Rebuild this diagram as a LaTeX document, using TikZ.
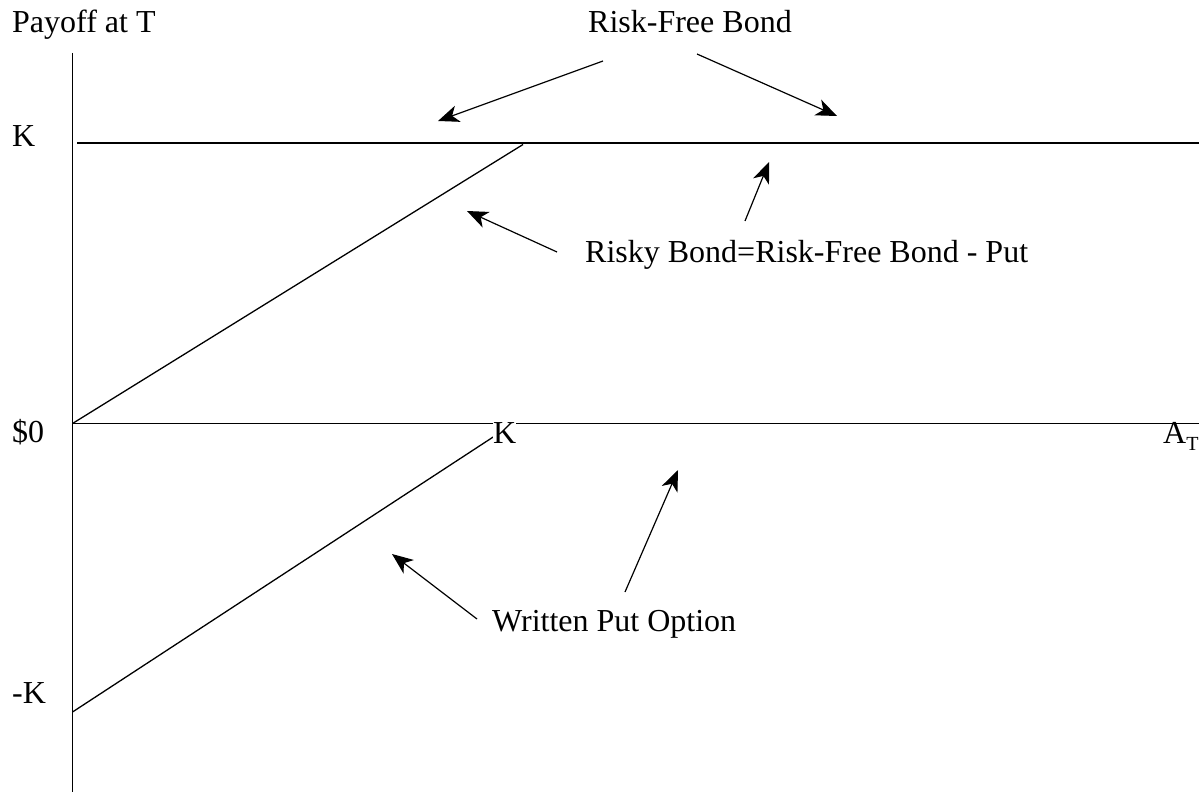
\documentclass[tikz,border=0pt]{standalone}
\usepackage{fontspec}
\setmainfont{Liberation Serif}
\usetikzlibrary{arrows.meta}
\begin{document}
\begin{tikzpicture}[x=1pt,y=-1pt,
  lbl/.style={inner sep=0pt,anchor=base west,font=\fontsize{32}{36}\selectfont},
  ln/.style={line width=1.3pt},
  arr/.style={line width=1.2pt,-{Stealth[length=21pt,width=17pt,inset=6pt]}}]
\useasboundingbox (0,0) rectangle (1199,792);
% axes and payoff lines
\coordinate (ytop) at (72.5,53);
\coordinate (ybot) at (72.5,792);
\coordinate (o) at (72.5,423.5);
\coordinate (xend) at (1199,423.5);
\coordinate (kl) at (77,143);
\coordinate (kr) at (1199,143);
\coordinate (kink) at (523,144.5);
\coordinate (mk) at (72.5,712);
\coordinate (kb) at (510,426);
\draw[ln] (ytop) -- (ybot);
\draw[ln] (o) -- (xend);
\draw[ln] (kl) -- (kr);
\draw[ln] (o) -- (kink);
\draw[ln] (mk) -- (kb);
% labels
\node[lbl] (payoff) at (12,33) {Payoff at T};
\node[lbl] (rfb) at (588,33) {Risk-Free Bond};
\node[lbl] (ktop) at (12,146) {K};
\node[lbl] (zero) at (12,442) {\$0};
\node[lbl] (mkl) at (12,703) {-K};
\node[lbl,fill=white] (kx) at (493,443) {K};
\node[lbl] (at) at (1163,443) {A\raisebox{-7pt}{\fontsize{20}{22}\selectfont T}};
\node[lbl] (risky) at (585,262) {Risky Bond=Risk-Free Bond - Put};
\node[lbl] (wpo) at (492,631) {Written Put Option};
% arrows
\coordinate (a1s) at (603,61);  \coordinate (a1e) at (438,121);
\coordinate (a2s) at (697,54);  \coordinate (a2e) at (837,116);
\coordinate (a3s) at (745,221); \coordinate (a3e) at (769,162);
\coordinate (a4s) at (557,252); \coordinate (a4e) at (467,211);
\coordinate (a5s) at (625,592); \coordinate (a5e) at (678,470);
\coordinate (a6s) at (477,619); \coordinate (a6e) at (392,554);
\draw[arr] (a1s) -- (a1e);
\draw[arr] (a2s) -- (a2e);
\draw[arr] (a3s) -- (a3e);
\draw[arr] (a4s) -- (a4e);
\draw[arr] (a5s) -- (a5e);
\draw[arr] (a6s) -- (a6e);
\end{tikzpicture}
\end{document}
